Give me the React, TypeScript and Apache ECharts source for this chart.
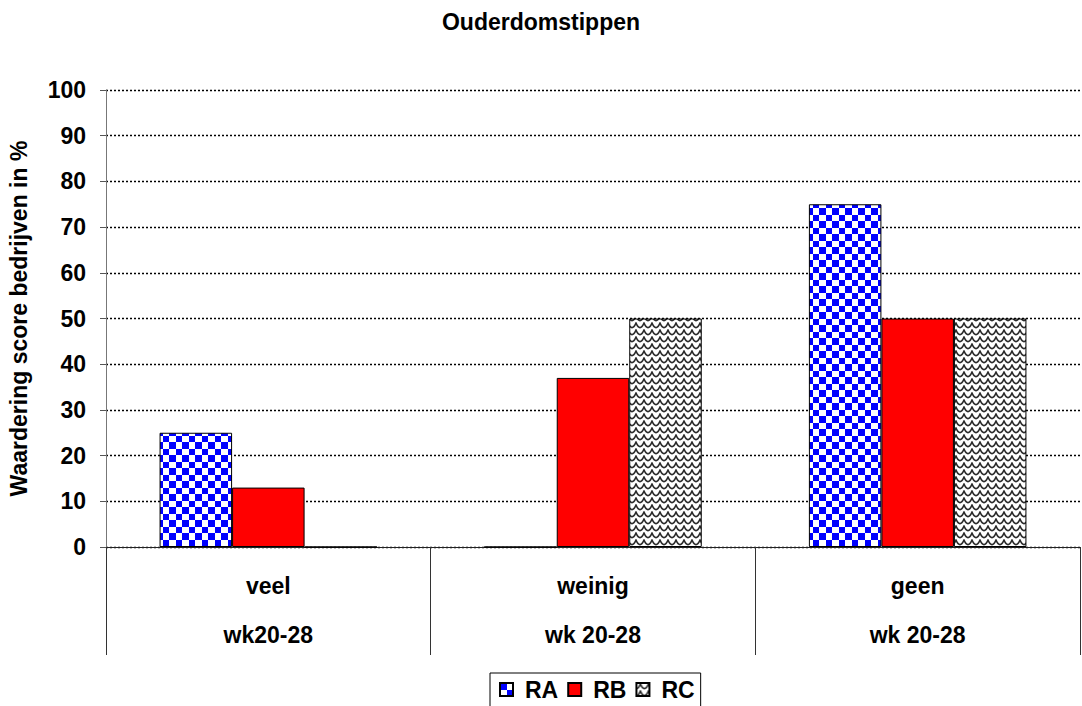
import React, { useEffect, useRef } from "react";
import * as echarts from "echarts";

const categories = ["veel", "weinig", "geen"];
const periods = ["wk20-28", "wk 20-28", "wk 20-28"];
const seriesNames = ["RA", "RB", "RC"];
const valuesRA = [25, 0, 75];
const valuesRB = [13, 37, 50];
const valuesRC = [0, 50, 50];
const yTicks = [0, 100, 10]; // min, max, interval

const FONT = "Liberation Sans, Arial, sans-serif";

function svgUrl(svg: string) {
  return "data:image/svg+xml;charset=utf-8," + encodeURIComponent(svg);
}

const checkerSvg =
  "<svg xmlns='http://www.w3.org/2000/svg' width='13' height='13'>" +
  "<rect width='13' height='13' fill='#ffffff'/>" +
  "<rect x='0' y='0' width='7' height='7' fill='#0000ff'/>" +
  "<rect x='7' y='7' width='6' height='6' fill='#0000ff'/>" +
  "</svg>";

const waveSvg =
  "<svg xmlns='http://www.w3.org/2000/svg' width='16' height='7'>" +
  "<rect width='16' height='7' fill='#ffffff'/>" +
  "<path d='M0 5.6 Q2 5.6 4 1.2 Q6 5.6 8 5.6 Q10 5.6 12 1.2 Q14 5.6 16 5.6' fill='none' stroke='#2a2a2a' stroke-width='1.6'/>" +
  "</svg>";

export default function App() {
  const ref = useRef<HTMLDivElement>(null);

  useEffect(() => {
    if (!ref.current) return;
    const chart = echarts.init(ref.current, undefined, { renderer: "svg" });

    const checker: any = {
      image: svgUrl(checkerSvg),
      repeat: "repeat",
      imageWidth: 13,
      imageHeight: 13,
    };
    const wave: any = {
      image: svgUrl(waveSvg),
      repeat: "repeat",
      imageWidth: 16,
      imageHeight: 7,
    };
    const fills = [checker, "#ff0000", wave];
    const values = [valuesRA, valuesRB, valuesRC];

    const txt = (size: number) => ({
      fontFamily: FONT,
      fontSize: size,
      fontWeight: "bold",
      color: "#000",
    });

    chart.setOption({
      animation: false,
      backgroundColor: "#ffffff",
      textStyle: { fontFamily: FONT },
      title: {
        text: "Ouderdomstippen",
        left: "center",
        top: 5,
        textStyle: txt(23),
      },
      legend: {
        left: 490,
        top: 673,
        icon: "rect",
        itemWidth: 13,
        itemHeight: 13,
        itemGap: 9,
        padding: [5, 6, 12, 9],
        borderColor: "#000",
        borderWidth: 1,
        backgroundColor: "#fff",
        textStyle: { ...txt(23), padding: [0, 0, 0, 7] },
        data: seriesNames,
      },
      grid: {
        left: 106,
        right: 2,
        top: 90,
        bottom: 159,
        containLabel: false,
        outerBoundsMode: "none",
      },
      xAxis: {
        type: "category",
        data: categories,
        boundaryGap: true,
        axisLine: { show: true, lineStyle: { color: "#222", width: 1 } },
        axisTick: {
          show: true,
          interval: 0,
          length: 108,
          lineStyle: { color: "#333", width: 1 },
        },
        axisLabel: {
          interval: 0,
          margin: 14,
          formatter: (_v: string, i: number) =>
            `{a|${categories[i]}}\n{b|${periods[i]}}`,
          rich: {
            a: { ...txt(23), lineHeight: 49 },
            b: { ...txt(23), lineHeight: 49 },
          },
        },
        splitLine: { show: false },
      },
      yAxis: {
        type: "value",
        min: yTicks[0],
        max: yTicks[1],
        interval: yTicks[2],
        name: "Waardering score bedrijven in %",
        nameLocation: "middle",
        nameGap: 76,
        nameTextStyle: txt(23),
        axisLine: { show: true, lineStyle: { color: "#777", width: 1 } },
        axisTick: { show: true, length: 6, lineStyle: { color: "#555" } },
        axisLabel: { margin: 20, ...txt(23) },
        splitLine: {
          show: true,
          lineStyle: { color: "#000", width: 1.4, type: [2, 2] },
        },
      },
      series: seriesNames.map((name, k) => ({
        name,
        type: "bar",
        data: values[k],
        barGap: "0%",
        barCategoryGap: "33%",
        itemStyle: {
          color: fills[k],
          borderColor: "#000",
          borderWidth: 1,
        },
      })),
    });

    return () => chart.dispose();
  }, []);

  return (
    <div
      ref={ref}
      style={{
        position: "fixed",
        left: 0,
        top: 0,
        width: 1082,
        height: 706,
        overflow: "hidden",
      }}
    />
  );
}
